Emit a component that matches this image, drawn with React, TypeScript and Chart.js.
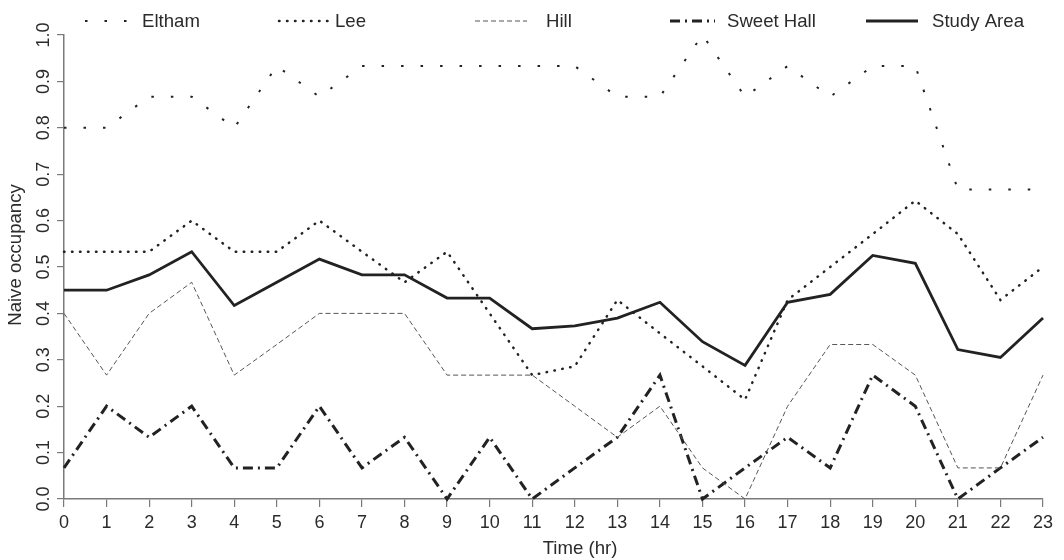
import React, { useEffect, useRef } from 'react';
import { Chart, registerables } from 'chart.js';

Chart.register(...registerables);

const HOURS = ['0', '1', '2', '3', '4', '5', '6', '7', '8', '9', '10', '11', '12', '13', '14', '15', '16', '17', '18', '19', '20', '21', '22', '23'];

const ELTHAM = [0.8, 0.8, 0.867, 0.867, 0.8, 0.933, 0.867, 0.933, 0.933, 0.933, 0.933, 0.933, 0.933, 0.867, 0.867, 1.0, 0.867, 0.933, 0.867, 0.933, 0.933, 0.667, 0.667, 0.667];
const LEE = [0.533, 0.533, 0.533, 0.6, 0.533, 0.533, 0.6, 0.533, 0.467, 0.533, 0.4, 0.267, 0.286, 0.429, 0.357, 0.286, 0.214, 0.429, 0.5, 0.571, 0.643, 0.571, 0.429, 0.5];
const HILL = [0.4, 0.267, 0.4, 0.467, 0.267, 0.333, 0.4, 0.4, 0.4, 0.267, 0.267, 0.267, 0.2, 0.133, 0.2, 0.067, 0.0, 0.2, 0.333, 0.333, 0.267, 0.067, 0.067, 0.267];
const SWEET_HALL = [0.067, 0.2, 0.133, 0.2, 0.067, 0.067, 0.2, 0.067, 0.133, 0.0, 0.133, 0.0, 0.067, 0.133, 0.267, 0.0, 0.067, 0.133, 0.067, 0.267, 0.2, 0.0, 0.067, 0.133];
const STUDY_AREA = [0.45, 0.45, 0.483, 0.533, 0.417, 0.467, 0.517, 0.483, 0.483, 0.433, 0.433, 0.367, 0.373, 0.39, 0.424, 0.339, 0.288, 0.424, 0.441, 0.525, 0.508, 0.322, 0.305, 0.39];

const SERIES_NAMES = ['Eltham', 'Lee', 'Hill', 'Sweet Hall', 'Study Area'];
const X_TITLE = 'Time (hr)';
const Y_TITLE = 'Naive occupancy';

const FONT = '"Liberation Sans", Arial, Helvetica, sans-serif';
const TEXT = '#2b2b2b';
const AXIS = '#7a7a7a';

export default function App() {
  const ref = useRef<HTMLCanvasElement>(null);

  useEffect(() => {
    const legendSampleX = [85, 279, 475, 670, 866];
    const legendSampleLen = [42, 49, 52, 45, 52];
    const legendTextX = [142, 335, 546, 727, 932];

    const rPlugin = {
      id: 'rLegend',
      afterDraw(chart: any) {
        const ctx = chart.ctx;
        ctx.save();
        chart.data.datasets.forEach((ds: any, i: number) => {
          const x0 = legendSampleX[i];
          const y = 21;
          ctx.beginPath();
          ctx.setLineDash(ds.borderDash || []);
          ctx.lineDashOffset = 0;
          ctx.lineWidth = ds.borderWidth;
          ctx.strokeStyle = ds.borderColor;
          ctx.lineCap = ds.borderCapStyle || 'butt';
          ctx.moveTo(x0, y);
          ctx.lineTo(x0 + legendSampleLen[i], y);
          ctx.stroke();
          ctx.setLineDash([]);
          ctx.fillStyle = TEXT;
          ctx.font = `18.6px ${FONT}`;
          ctx.textBaseline = 'middle';
          ctx.textAlign = 'left';
          ctx.fillText(ds.label, legendTextX[i], 22);
        });
        ctx.fillStyle = TEXT;
        ctx.font = `18.6px ${FONT}`;
        ctx.textBaseline = 'middle';
        ctx.textAlign = 'center';
        ctx.fillText(X_TITLE, 580, 549);
        ctx.translate(16, 255);
        ctx.rotate(-Math.PI / 2);
        ctx.fillText(Y_TITLE, 0, 0);
        ctx.restore();
      },
    };

    const chart = new Chart(ref.current as HTMLCanvasElement, {
      type: 'line',
      data: {
        labels: HOURS,
        datasets: [
          { label: SERIES_NAMES[0], data: ELTHAM, borderColor: '#222', borderWidth: 2, borderDash: [2.5, 17], borderCapStyle: 'butt' },
          { label: SERIES_NAMES[1], data: LEE, borderColor: '#222', borderWidth: 2.5, borderDash: [0.5, 7.5], borderCapStyle: 'round' },
          { label: SERIES_NAMES[2], data: HILL, borderColor: '#555', borderWidth: 1, borderDash: [5, 3], borderCapStyle: 'butt' },
          { label: SERIES_NAMES[3], data: SWEET_HALL, borderColor: '#222', borderWidth: 3, borderDash: [10, 5, 2, 5], borderCapStyle: 'butt' },
          { label: SERIES_NAMES[4], data: STUDY_AREA, borderColor: '#222', borderWidth: 2.8, borderCapStyle: 'butt' },
        ].map((d) => ({ ...d, pointRadius: 0, tension: 0, fill: false, clip: false as any, borderJoinStyle: 'miter' as const })),
      },
      options: {
        responsive: false,
        animation: false,
        layout: { padding: { top: 35, right: 21, left: 0, bottom: 0 } },
        plugins: { legend: { display: false }, tooltip: { enabled: false } },
        scales: {
          x: {
            type: 'category',
            offset: false,
            afterFit: (s: any) => { s.height = 61; },
            grid: { display: true, drawOnChartArea: false, drawTicks: true, tickLength: 8, color: AXIS, lineWidth: 1.2 },
            border: { display: true, color: AXIS, width: 1.5 },
            ticks: { color: TEXT, font: { family: FONT, size: 18 }, padding: 5, maxRotation: 0, autoSkip: false },
          },
          y: {
            type: 'linear',
            min: 0,
            max: 1,
            afterFit: (s: any) => { s.width = 64; },
            grid: { display: true, drawOnChartArea: false, drawTicks: true, tickLength: 7, color: AXIS, lineWidth: 1.2 },
            border: { display: true, color: AXIS, width: 1.5 },
            ticks: {
              stepSize: 0.1,
              color: TEXT,
              font: { family: FONT, size: 18 },
              padding: 0,
              minRotation: 90,
              maxRotation: 90,
              crossAlign: 'center',
              callback: (v: any) => Number(v).toFixed(1),
            },
          },
        },
      },
      plugins: [rPlugin],
    } as any);

    return () => chart.destroy();
  }, []);

  return (
    <div style={{ position: 'fixed', left: 0, top: 0, width: 1064, height: 560, background: '#fff' }}>
      <canvas ref={ref} width={1064} height={560} style={{ width: 1064, height: 560, display: 'block' }} />
    </div>
  );
}
